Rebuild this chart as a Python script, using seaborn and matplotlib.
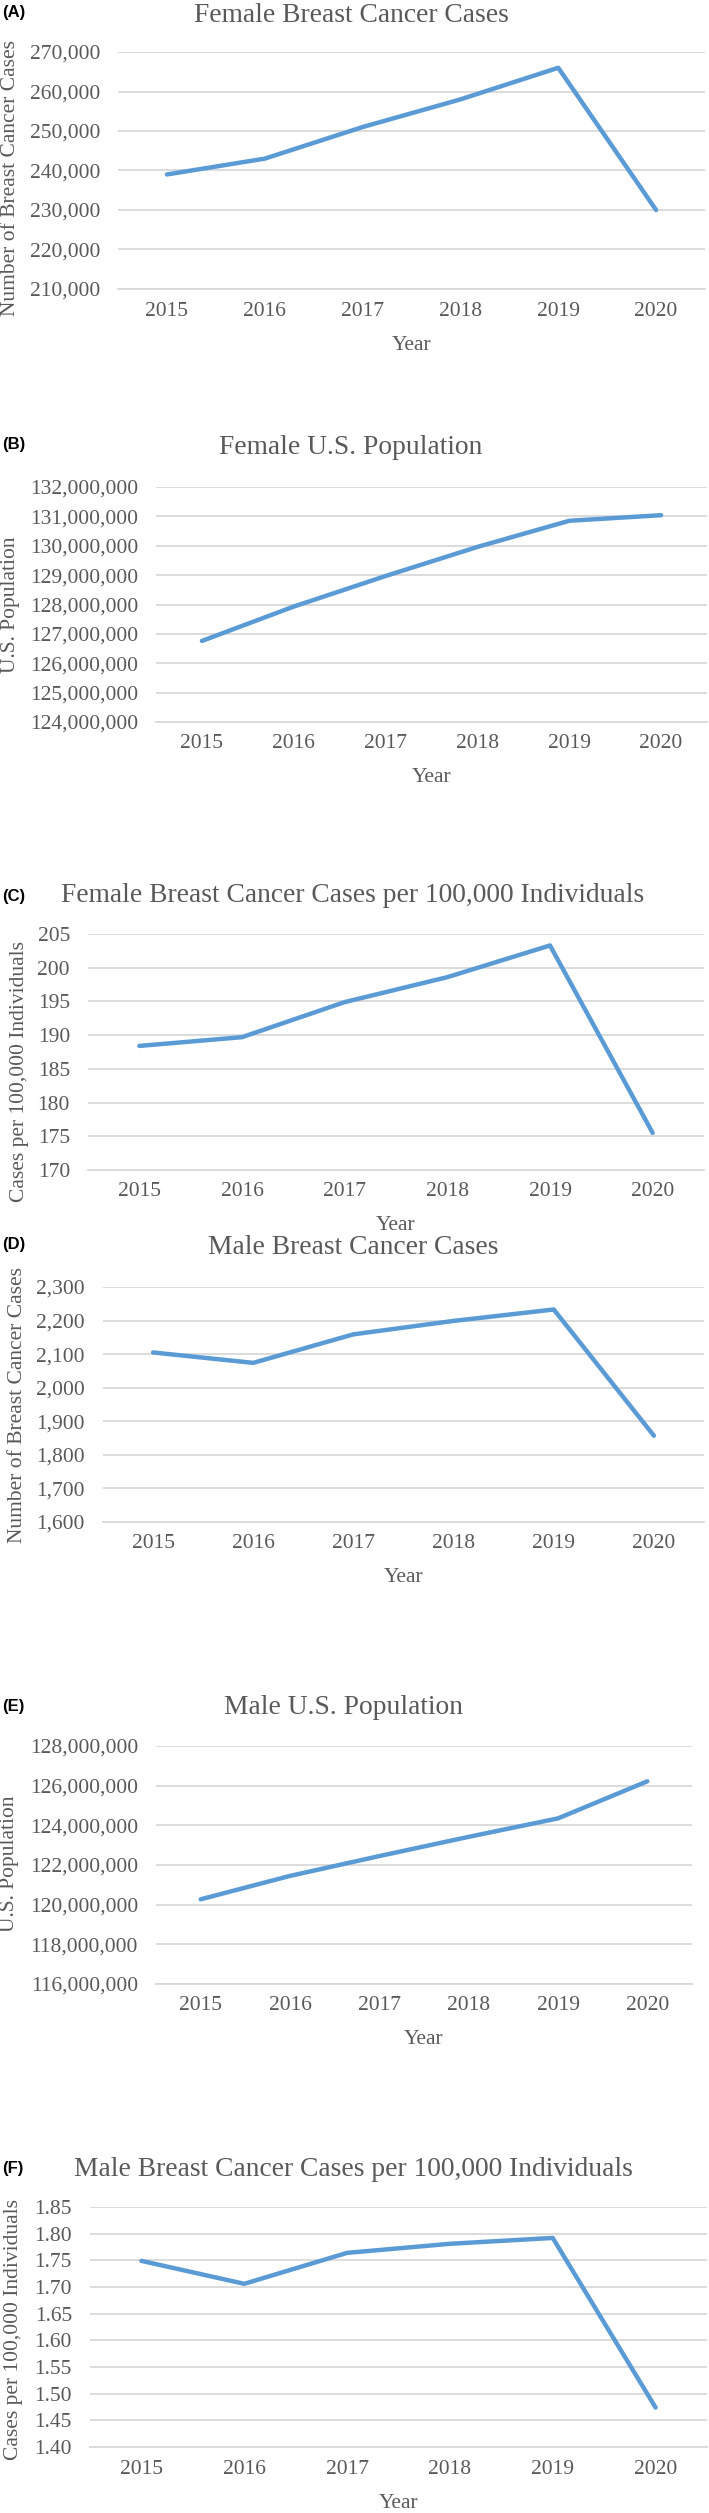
"""
Breast cancer cases and US population by sex, 2015-2020
Six stacked Excel-style line panels (A)-(F).
"""

import pandas as pd
import seaborn as sns
import matplotlib.pyplot as plt
from matplotlib.ticker import FuncFormatter, MultipleLocator

# ── Data ───────────────────────────────────────────────────────────────────────
years = ["2015", "2016", "2017", "2018", "2019", "2020"]

female_cases = [239000, 243000, 251000, 258000, 266000, 230000]
female_pop   = [126760000, 127930000, 128970000, 129960000, 130850000, 131040000]
female_rate  = [188.4, 189.7, 194.9, 198.6, 203.3, 175.5]
male_cases   = [2105, 2074, 2159, 2199, 2233, 1857]
male_pop     = [120270000, 121450000, 122450000, 123420000, 124350000, 126220000]
male_rate    = [1.749, 1.706, 1.764, 1.781, 1.792, 1.474]

panel_tags = ["(A)", "(B)", "(C)", "(D)", "(E)", "(F)"]
titles = [
    "Female Breast Cancer Cases",
    "Female U.S. Population",
    "Female Breast Cancer Cases per 100,000 Individuals",
    "Male Breast Cancer Cases",
    "Male U.S. Population",
    "Male Breast Cancer Cases per 100,000 Individuals",
]
ylabels = [
    "Number of Breast Cancer Cases",
    "U.S. Population",
    "Cases per 100,000 Individuals",
    "Number of Breast Cancer Cases",
    "U.S. Population",
    "Cases per 100,000 Individuals",
]
y_ranges = [
    (210000, 270000, 10000),
    (124000000, 132000000, 1000000),
    (170, 205, 5),
    (1600, 2300, 100),
    (116000000, 128000000, 2000000),
    (1.40, 1.85, 0.05),
]
y_formats = ["{:,.0f}", "{:,.0f}", "{:.0f}", "{:,.0f}", "{:,.0f}", "{:.2f}"]
series = [female_cases, female_pop, female_rate, male_cases, male_pop, male_rate]

# ── Layout (pixels in the 709 x 2513 figure) ───────────────────────────────────
W, H = 709, 2513
# left, right, top, bottom, title_x, title_y, tag_y, ylabel_x, ylabel_y
layout = [
    (118, 705,   52,  289, 351,   15,   12, 11,  178),
    (156, 707,  487,  722, 351,  447,  445, 11,  605),
    ( 88, 704,  934, 1170, 353,  895,  897, 20, 1072),
    (103, 704, 1287, 1522, 353, 1248, 1245, 18, 1405),
    (156, 692, 1746, 1984, 344, 1707, 1707, 10, 1864),
    ( 90, 707, 2207, 2447, 353, 2169, 2169, 14, 2330),
]

TEXT_GRAY = "#595959"
GRID_GRAY = "#D9D9D9"
LINE_BLUE = "#5B9BD5"

sns.set_theme(style="whitegrid")
plt.rcParams["font.family"] = ["Liberation Serif", "DejaVu Serif"]

fig = plt.figure(figsize=(W / 100, H / 100), dpi=100)

for i in range(6):
    l, r, t, b, tx, ty, tagy, ylx, yly = layout[i]
    ax = fig.add_axes([l / W, 1 - b / H, (r - l) / W, (b - t) / H])
    df = pd.DataFrame({"year": years, "value": series[i]})
    sns.lineplot(data=df, x="year", y="value", ax=ax, color=LINE_BLUE,
                 linewidth=3.2, sort=False, solid_capstyle="round",
                 solid_joinstyle="round")

    lo, hi, step = y_ranges[i]
    ax.set_ylim(lo, hi)
    ax.yaxis.set_major_locator(MultipleLocator(step))
    fmt = y_formats[i]
    ax.yaxis.set_major_formatter(FuncFormatter(lambda v, p, f=fmt: f.format(v)))
    ax.set_xlim(-0.5, 5.5)

    ax.grid(axis="y", color=GRID_GRAY, linewidth=1.3)
    ax.grid(axis="x", visible=False)
    for side in ["left", "right", "top"]:
        ax.spines[side].set_visible(False)
    ax.spines["bottom"].set_color(GRID_GRAY)
    ax.spines["bottom"].set_linewidth(1.3)
    ax.set_facecolor("white")

    ax.tick_params(axis="both", length=0, labelsize=15.5, labelcolor=TEXT_GRAY)
    ax.tick_params(axis="y", pad=13)
    ax.tick_params(axis="x", pad=9)

    ax_h = b - t
    ax.set_xlabel("Year", fontsize=15.5, color=TEXT_GRAY)
    ax.xaxis.set_label_coords(0.5, -56 / ax_h)
    ax.xaxis.label.set_va("center")

    ax.set_ylabel(ylabels[i], fontsize=15.5, color=TEXT_GRAY)
    ax.yaxis.set_label_coords((ylx - l) / (r - l), (b - yly) / ax_h)
    ax.yaxis.label.set_va("center")

    fig.text(tx / W, 1 - ty / H, titles[i], ha="center", va="center",
             fontsize=19.8, color=TEXT_GRAY)
    fig.text(2 / W, 1 - tagy / H, panel_tags[i], ha="left", va="center",
             fontsize=12, fontweight="bold", color="black",
             family=["Liberation Sans", "DejaVu Sans"])

fig.savefig("out.png", dpi=100)
